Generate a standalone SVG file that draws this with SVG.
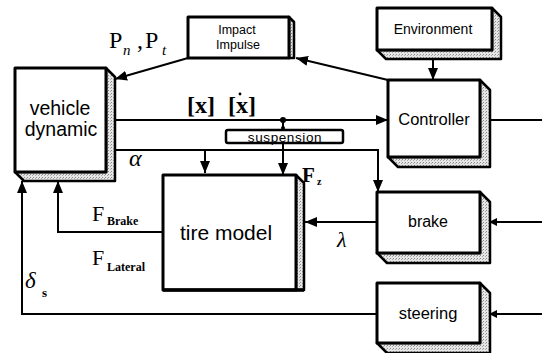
<svg xmlns="http://www.w3.org/2000/svg" width="542" height="353" viewBox="0 0 542 353">
<defs>
<pattern id="dots" width="3" height="3" patternUnits="userSpaceOnUse">
<rect width="3" height="3" fill="#e6e6e6"/>
<rect x="0" y="0" width="1" height="1" fill="#8a8a8a"/>
<rect x="2" y="1" width="1" height="1" fill="#a8a8a8"/>
</pattern>
<marker id="ah" viewBox="0 0 12 10" refX="12" refY="5" markerWidth="12" markerHeight="10" orient="auto" markerUnits="userSpaceOnUse">
<path d="M0,0 L12,5 L0,10 z" fill="#000"/>
</marker>
<marker id="ahs" viewBox="0 0 8 8" refX="8" refY="4" markerWidth="8" markerHeight="8" orient="auto" markerUnits="userSpaceOnUse">
<path d="M0,0 L8,4 L0,8 z" fill="#000"/>
</marker>
</defs>
<style>
.front{fill:#fff;stroke:#000;stroke-width:3;stroke-linejoin:round}
.side{fill:url(#dots);stroke:#000;stroke-width:2.5;stroke-linejoin:round}
.lbl{font-family:"Liberation Sans",Arial,sans-serif;fill:#000;text-anchor:middle}
.math{font-family:"Liberation Serif","Times New Roman",serif;fill:#000}
.conn{fill:none;stroke:#000;stroke-width:2}
</style>
<rect width="542" height="353" fill="#fff"/>

<g id="connectors">
<line class="conn" x1="388" y1="80" x2="296" y2="58" marker-end="url(#ah)"/>
<line class="conn" x1="188" y1="58" x2="115" y2="79" marker-end="url(#ah)"/>
<line class="conn" x1="433" y1="59" x2="433" y2="80" marker-end="url(#ah)"/>
<line class="conn" x1="115" y1="120" x2="388" y2="120" marker-end="url(#ah)"/>
<line class="conn" x1="283" y1="120" x2="283" y2="130"/>
<circle cx="283" cy="120" r="3" fill="#000"/>
<circle cx="283" cy="128" r="2" fill="#000"/>
<line class="conn" x1="283" y1="143" x2="283" y2="175" marker-end="url(#ah)"/>
<path class="conn" d="M115,150 H378 V192" marker-end="url(#ah)"/>
<line class="conn" x1="205" y1="150" x2="205" y2="173" marker-end="url(#ah)"/>
<line class="conn" x1="377" y1="222" x2="305" y2="222" marker-end="url(#ah)"/>
<path class="conn" d="M163,232 H58 V181" marker-end="url(#ah)"/>
<path class="conn" d="M377,314 H22 V181" marker-end="url(#ah)"/>
<line class="conn" x1="490" y1="120" x2="542" y2="120"/>
<line class="conn" x1="542" y1="222" x2="489" y2="222" marker-end="url(#ahs)"/>
<line class="conn" x1="542" y1="314" x2="489" y2="314" marker-end="url(#ahs)"/>
</g>

<g id="vehicle-dynamic">
<polygon class="side" points="106,68 115,77 115,181 24,181 15,172 106,172"/>
<rect class="front" x="15" y="68" width="91" height="104"/>
<text class="lbl" x="60" y="115" font-size="19.5">vehicle</text>
<text class="lbl" x="61" y="136" font-size="19.5">dynamic</text>
</g>

<g id="impact-impulse">
<polygon class="side" points="289,17 294,22 294,58 289,58"/>
<rect class="front" x="188" y="17" width="101" height="41"/>
<text class="lbl" x="237" y="34" font-size="12.5">Impact</text>
<text class="lbl" x="238" y="49" font-size="12.5">Impulse</text>
</g>

<g id="environment">
<polygon class="side" points="492,8 501,17 501,59 386,59 377,50 492,50"/>
<rect class="front" x="377" y="8" width="115" height="42"/>
<text class="lbl" x="433" y="34" font-size="14">Environment</text>
</g>

<g id="controller">
<polygon class="side" points="480,80 490,90 490,167 398,167 388,157 480,157"/>
<rect class="front" x="388" y="80" width="92" height="77"/>
<text class="lbl" x="434" y="125" font-size="16.5">Controller</text>
</g>

<g id="suspension">
<rect x="226" y="130" width="117" height="13" rx="2" fill="#fff" stroke="#000" stroke-width="2.5"/>
<text class="lbl" x="285" y="141.5" font-size="13.5" letter-spacing="0.6">suspension</text>
</g>

<g id="tire-model">
<polygon class="side" points="296,175 304,183 304,290 296,290"/>
<rect class="front" x="163" y="175" width="133" height="115"/>
<line x1="163" y1="290" x2="304" y2="290" stroke="#000" stroke-width="3.5"/>
<text class="lbl" x="226" y="240" font-size="21">tire model</text>
</g>

<g id="brake">
<polygon class="side" points="480,192 490,202 490,263 387,263 377,253 480,253"/>
<rect class="front" x="377" y="192" width="103" height="61"/>
<text class="lbl" x="428" y="227" font-size="16">brake</text>
</g>

<g id="steering">
<polygon class="side" points="480,283 490,293 490,353 387,353 377,343 480,343"/>
<rect class="front" x="377" y="283" width="103" height="60"/>
<text class="lbl" x="428" y="319" font-size="16.5">steering</text>
</g>

<g id="labels">
<text class="math" x="109" y="48" font-size="24">P</text>
<text class="math" x="123" y="55" font-size="15" font-style="italic">n</text>
<text class="math" x="137" y="48" font-size="24">,</text>
<text class="math" x="145" y="48" font-size="24">P</text>
<text class="math" x="162" y="55" font-size="15" font-style="italic">t</text>
<text class="math" x="187" y="113" font-size="24" font-weight="bold">[x]</text>
<text class="math" x="228" y="113" font-size="24" font-weight="bold">[x]</text>
<circle cx="240" cy="94" r="1.4" fill="#000"/>
<text class="math" x="129" y="166" font-size="24" font-style="italic">α</text>
<text class="math" x="302" y="182" font-size="21" font-weight="bold">F</text>
<text class="math" x="317" y="185" font-size="10" font-weight="bold">z</text>
<text class="math" x="92" y="221" font-size="22">F</text>
<text class="math" x="107" y="225" font-size="12" font-weight="bold">Brake</text>
<text class="math" x="92" y="265" font-size="22">F</text>
<text class="math" x="107" y="271" font-size="12" font-weight="bold">Lateral</text>
<text class="math" x="25" y="288" font-size="23" font-style="italic">δ</text>
<text class="math" x="42" y="297" font-size="13" font-weight="bold">s</text>
<text class="math" x="337" y="247" font-size="22" font-style="italic">λ</text>
</g>
</svg>
